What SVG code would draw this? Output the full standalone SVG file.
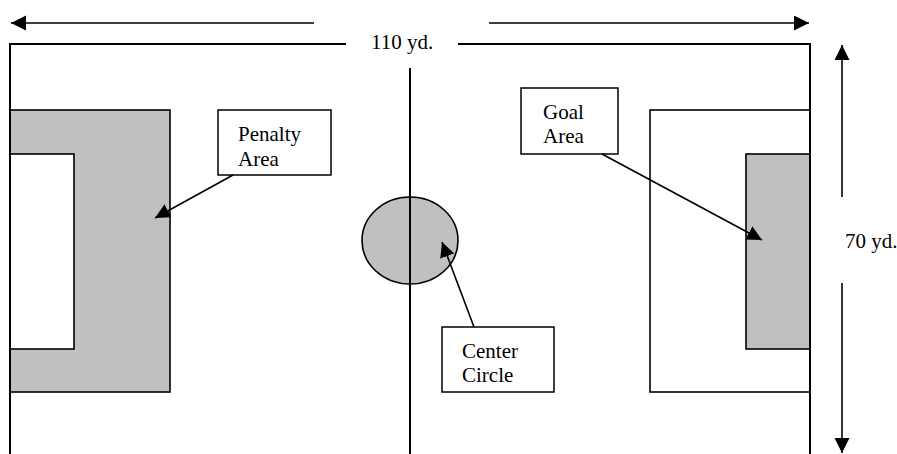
<svg xmlns="http://www.w3.org/2000/svg" width="897" height="454" viewBox="0 0 897 454">
<style>
.fld{fill:none;stroke:#000;stroke-width:2}
.gray{fill:#c0c0c0;stroke:#000;stroke-width:1.6}
.wht{fill:#fff;stroke:#000;stroke-width:1.6}
.box{fill:#fff;stroke:#000;stroke-width:1.5}
.arr{fill:none;stroke:#000;stroke-width:1.6;marker-end:url(#ah)}
text{font-family:"Liberation Serif","Times New Roman",serif;font-size:21px;fill:#000}
</style>
<defs>
<marker id="ah" markerUnits="userSpaceOnUse" markerWidth="16" markerHeight="16" refX="15" refY="7.5" orient="auto">
<path d="M0,0 L15,7.5 L0,15 Z" fill="#000"/>
</marker>
</defs>
<rect width="897" height="454" fill="#fff"/>
<g id="penalty-area-left">
<rect class="gray" x="10" y="110" width="160" height="282"/>
<rect class="wht" x="10" y="154" width="64" height="195"/>
</g>
<g id="penalty-area-right">
<rect class="wht" x="650" y="110" width="160" height="282"/>
<rect class="gray" x="746" y="154" width="64" height="195"/>
</g>
<g id="center-circle">
<ellipse class="gray" cx="410" cy="240.5" rx="48" ry="43.5"/>
</g>
<g id="field">
<polyline class="fld" points="346,44 10,44 10,454"/>
<polyline class="fld" points="458,44 810,44 810,454"/>
<line class="fld" x1="410" y1="68" x2="410" y2="454"/>
</g>
<g id="label-110">
<text x="371" y="49">110 yd.</text>
</g>
<g id="label-70">
<text x="845" y="248">70 yd.</text>
</g>
<g id="label-penalty">
<rect class="box" x="218" y="110" width="113" height="65"/>
<text x="238" y="141">Penalty</text>
<text x="238" y="166">Area</text>
</g>
<g id="label-goal">
<rect class="box" x="521" y="88" width="97" height="66"/>
<text x="543" y="118.5">Goal</text>
<text x="543" y="143">Area</text>
</g>
<g id="label-center">
<rect class="box" x="442" y="327" width="112" height="65"/>
<text x="462" y="357.5">Center</text>
<text x="462" y="381.5">Circle</text>
</g>
<g id="connectors">
<line class="arr" x1="314" y1="23" x2="11" y2="23"/>
<line class="arr" x1="489" y1="23" x2="809" y2="23"/>
<line class="arr" x1="842" y1="197" x2="842" y2="45"/>
<line class="arr" x1="842" y1="283" x2="842" y2="453"/>
<line class="arr" x1="233" y1="175" x2="155" y2="218"/>
<line class="arr" x1="602" y1="154" x2="762" y2="240"/>
<line class="arr" x1="474" y1="327" x2="442" y2="242"/>
</g>
</svg>
